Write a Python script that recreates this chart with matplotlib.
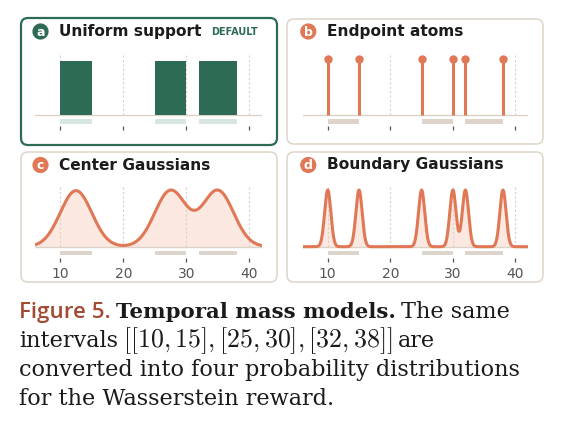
import matplotlib
matplotlib.use("Agg")
import matplotlib.pyplot as plt
import numpy as np
from matplotlib.patches import FancyBboxPatch, Circle

# data
intervals = [(10, 15), (25, 30), (32, 38)]
endpoints = [10, 15, 25, 30, 32, 38]
centers = [12.5, 27.5, 35.0]
center_sigma = 2.5
boundary_sigma = 0.5
tick_values = [10, 20, 30, 40]
panel_titles = ["Uniform support", "Endpoint atoms", "Center Gaussians", "Boundary Gaussians"]
panel_letters = ["a", "b", "c", "d"]

GREEN = "#2e6b55"
ORANGE = "#e07856"
PALE = "#fbe8e1"
BAND = "#ddd5cc"
BAND_A = "#d7e7e0"
BORDER = "#ddd5c9"
GRID = "#d9d1c9"

W, H = 562, 428
fig = plt.figure(figsize=(W / 100, H / 100), dpi=100)

bg = fig.add_axes([0, 0, 1, 1])
bg.set_xlim(0, W)
bg.set_ylim(H, 0)
bg.axis("off")

# panel frames (pixel coords)
frames = [(21, 18, 277, 145), (287, 19, 543, 144), (21, 152, 277, 282), (287, 152, 543, 282)]
for i, (x0, y0, x1, y1) in enumerate(frames):
    ec = GREEN if i == 0 else BORDER
    lw = 1.6 if i == 0 else 1.1
    bg.add_patch(FancyBboxPatch((x0, y0), x1 - x0, y1 - y0,
                                boxstyle="round,pad=0,rounding_size=7",
                                fc="white", ec=ec, lw=lw))

# titles
title_pos = [(40.5, 31.5, 59), (308.3, 31.5, 326.7), (40.5, 165, 59), (308.3, 165, 326.7)]
for i, (cx, cy, tx) in enumerate(title_pos):
    bg.add_patch(Circle((cx, cy), 7.4, color=GREEN if i == 0 else ORANGE))
    bg.text(cx, cy + 0.5, panel_letters[i], color="white", fontweight="bold",
            fontsize=9, ha="center", va="center")
    bg.text(tx, cy, panel_titles[i], color="#1c1c1c", fontweight="bold",
            fontsize=11.1, ha="left", va="center")
bg.text(211, 31.5, "DEFAULT", color=GREEN, fontweight="bold", fontsize=7,
        ha="left", va="center")


def panel(left, right, base, s, labels):
    top_px, bot_px = 65, 15
    ax = fig.add_axes([left / W, 1 - (base + bot_px) / H, (right - left) / W,
                       (top_px + bot_px) / H])
    ax.set_xlim(6, 42)
    ax.set_ylim(-bot_px / s, top_px / s)
    ax.patch.set_alpha(0)
    for sp in ax.spines.values():
        sp.set_visible(False)
    ax.set_yticks([])
    ax.set_xticks(tick_values)
    ax.tick_params(axis="x", direction="in", length=2.7, width=0.9, color="#555555",
                   labelsize=10, labelcolor="#555555", pad=3.5, labelbottom=labels)
    ax.vlines(tick_values, 0, 61 / s, colors=GRID, lw=0.8, linestyles=(0, (2, 2)), zorder=1)
    ax.axhline(0, color="#dcd2c6", lw=1.0, zorder=2)
    return ax


x = np.linspace(6, 42, 1200)

# a: uniform support
ax = panel(35, 262, 115, 54.3, False)
starts = [a for a, b in intervals]
widths = [b - a for a, b in intervals]
ax.bar(starts, [1] * len(starts), width=widths, align="edge", color=GREEN, zorder=3)
ax.barh(-6.3 / 54.3, widths, left=starts, height=4.5 / 54.3, color=BAND_A, zorder=3)

# b: endpoint atoms
ax = panel(302.7, 528, 115, 55.7, False)
ax.vlines(endpoints, 0, 1, colors=ORANGE, lw=2.2, zorder=3)
ax.plot(endpoints, [1] * len(endpoints), "o", color=ORANGE, ms=5, zorder=4)
ax.barh(-6.3 / 55.7, widths, left=starts, height=4.5 / 55.7, color=BAND, zorder=3)

# c: center gaussians
yc = sum(np.exp(-(x - c) ** 2 / (2 * center_sigma ** 2)) for c in centers)
yc = yc / yc.max()
ax = panel(35, 262, 246.7, 56.7, True)
ax.fill_between(x, 0, yc, color=PALE, lw=0, zorder=0)
ax.plot(x, yc, color=ORANGE, lw=2.2, zorder=4, solid_capstyle="butt")
ax.barh(-6.3 / 56.7, widths, left=starts, height=4.5 / 56.7, color=BAND, zorder=3)

# d: boundary gaussians
yd = sum(np.exp(-(x - c) ** 2 / (2 * boundary_sigma ** 2)) for c in endpoints)
yd = yd / yd.max()
ax = panel(302.7, 528, 246.7, 56.7, True)
ax.fill_between(x, 0, yd, color=PALE, lw=0, zorder=0)
ax.plot(x, yd, color=ORANGE, lw=2.2, zorder=4, solid_capstyle="butt")
ax.barh(-6.3 / 56.7, widths, left=starts, height=4.5 / 56.7, color=BAND, zorder=3)

# caption
fig.canvas.draw()
r = fig.canvas.get_renderer()
CAP = 16.1
SP = 5


def put(x0, y0, s, **kw):
    t = bg.text(x0, y0, s, va="baseline", ha="left", **kw)
    return t.get_window_extent(renderer=r).x1


x1 = put(19, 318, "Figure 5.", family="Open Sans", fontweight="semibold", fontsize=CAP,
         color="#a34a33")
x1 = put(x1 + SP, 318, "Temporal mass models.", family="DejaVu Serif", fontweight="bold",
         fontsize=CAP - 0.8, color="#1a1a1a")
put(x1 + SP, 318, "The same", family="DejaVu Serif", fontsize=CAP, color="#1a1a1a")
x1 = put(19, 347, "intervals", family="DejaVu Serif", fontsize=CAP, color="#1a1a1a")
x1 = put(x1 + SP, 347, r"$[[10, 15], [25, 30], [32, 38]]$", math_fontfamily="cm",
         fontsize=CAP + 2.5, color="#1a1a1a")
put(x1 + SP, 347, "are", family="DejaVu Serif", fontsize=CAP, color="#1a1a1a")
put(19, 376, "converted into four probability distributions", family="DejaVu Serif",
    fontsize=CAP, color="#1a1a1a")
put(19, 405, "for the Wasserstein reward.", family="DejaVu Serif", fontsize=CAP,
    color="#1a1a1a")

fig.savefig("out.png", dpi=100)
